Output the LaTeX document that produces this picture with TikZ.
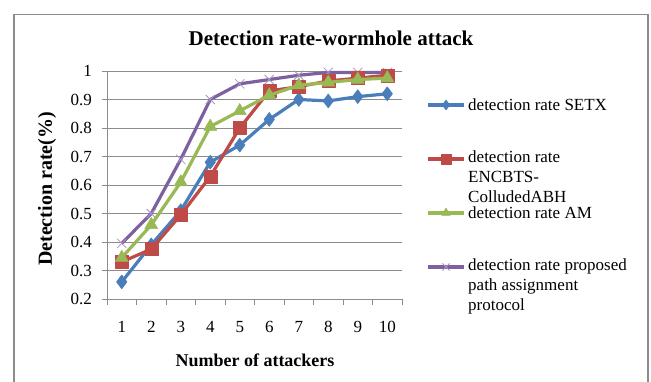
\documentclass[tikz,border=0pt]{standalone}
\usepackage{fontspec}
\setmainfont{Liberation Serif}
\usetikzlibrary{plotmarks}
\definecolor{cblue}{HTML}{4A7EBB}
\definecolor{cred}{HTML}{BE4B48}
\definecolor{cgreen}{HTML}{98B954}
\definecolor{cpurple}{HTML}{7D60A0}
\definecolor{cpurplelight}{HTML}{A795C5}
\tikzset{
  grid line/.style={draw=black!45, line width=0.8pt},
  tick label/.style={font=\fontsize{17}{17}\selectfont, inner sep=0pt},
  legend text/.style={font=\fontsize{17}{20}\selectfont, anchor=west, inner sep=0pt, align=left},
  series/.style={line width=3.2pt, line join=round},
  sblue/.style={series, draw=cblue, mark=diamond*, mark size=7pt, mark options={fill=cblue, draw=cblue, line width=0.5pt}},
  sred/.style={series, draw=cred, mark=square*, mark size=6.5pt, mark options={fill=cred, draw=cred, line width=0.5pt}},
  sgreen/.style={series, draw=cgreen, mark=triangle*, mark size=7.5pt, mark options={fill=cgreen, draw=cgreen, line width=0.5pt}},
  spurple/.style={series, draw=cpurple, mark=x, mark size=6.5pt, mark options={draw=cpurplelight, line width=0.8pt}},
  legend mark/.style={mark indices={2}, mark size=5pt},
}
\begin{document}
\begin{tikzpicture}[x=1pt,y=-1pt]
\useasboundingbox (0,0) rectangle (651,382);
\fill[white] (0,0) rectangle (651,382);
% outer frame
\draw[black!45, line width=1.4pt] (14,382) -- (14,14.5) -- (648,14.5) -- (648,382);
% title
\node[font=\bfseries\fontsize{21}{21}\selectfont, inner sep=0pt] (title) at (331,38) {Detection rate-wormhole attack};
% grid lines and y labels
\foreach \v/\lab in {0.2/0.2,0.3/0.3,0.4/0.4,0.5/0.5,0.6/0.6,0.7/0.7,0.8/0.8,0.9/0.9,1.0/1} {
  \pgfmathsetmacro\yy{356-285*\v}
  \draw[grid line] (102,\yy) -- (402,\yy);
  \node[tick label, anchor=east] at (92,\yy) {\lab};
}
% y axis
\draw[grid line] (107,71) -- (107,299);
% x axis ticks
\foreach \i in {0,...,10} {
  \draw[grid line] ({107+29.5*\i},299) -- ({107+29.5*\i},305);
}
\foreach \i in {1,...,10} {
  \node[tick label] at ({107+29.5*(\i-0.5)},327) {\i};
}
% axis titles
\node[font=\bfseries\fontsize{18}{18}\selectfont, inner sep=0pt] (xlabel) at (255,360) {Number of attackers};
\node[font=\bfseries\fontsize{20}{20}\selectfont, inner sep=0pt, rotate=90] (ylabel) at (47,189) {Detection rate(\%)};
% data
\begin{scope}[shift={(107,356)}, x=29.5pt, y=285pt]
\draw[spurple] plot coordinates {(0.5,0.395) (1.5,0.50) (2.5,0.69) (3.5,0.90) (4.5,0.955) (5.5,0.97) (6.5,0.985) (7.5,0.995) (8.5,0.995) (9.5,0.995)};
\draw[sblue] plot coordinates {(0.5,0.26) (1.5,0.39) (2.5,0.51) (3.5,0.68) (4.5,0.74) (5.5,0.83) (6.5,0.90) (7.5,0.895) (8.5,0.91) (9.5,0.92)};
\draw[sred] plot coordinates {(0.5,0.33) (1.5,0.375) (2.5,0.495) (3.5,0.63) (4.5,0.80) (5.5,0.93) (6.5,0.945) (7.5,0.965) (8.5,0.975) (9.5,0.985)};
\draw[sgreen] plot coordinates {(0.5,0.345) (1.5,0.46) (2.5,0.61) (3.5,0.805) (4.5,0.86) (5.5,0.915) (6.5,0.95) (7.5,0.96) (8.5,0.97) (9.5,0.975)};
\end{scope}
% legend
\draw[sblue, legend mark] plot coordinates {(428,105) (446,105) (464,105)};
\node[legend text] (l1) at (468,105) {detection rate SETX};
\draw[sred, legend mark] plot coordinates {(428,159) (446,159) (464,159)};
\node[legend text, anchor=north west] (l2) at (468,151) {detection rate\\ENCBTS-\\ColludedABH};
\draw[sgreen, legend mark] plot coordinates {(428,213) (446,213) (464,213)};
\node[legend text] (l3) at (468,213) {detection rate AM};
\draw[spurple, legend mark] plot coordinates {(428,267) (446,267) (464,267)};
\node[legend text, anchor=north west] (l4) at (468,259) {detection rate proposed\\path assignment\\protocol};
\end{tikzpicture}
\end{document}
